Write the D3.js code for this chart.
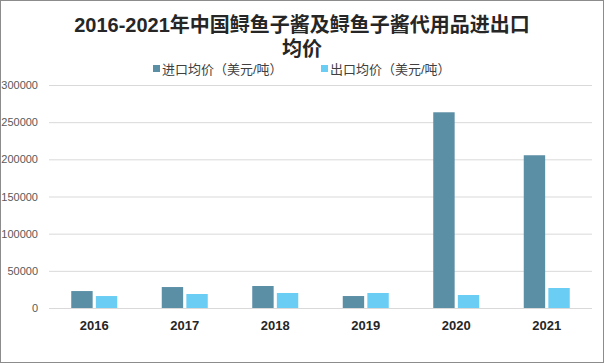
<!DOCTYPE html>
<html>
<head>
<meta charset="utf-8">
<script src="https://cdn.jsdelivr.net/npm/d3@7"></script>
<style>
  body { margin: 0; background: #fff; }
  svg { display: block; font-family: "Liberation Sans", "Noto Sans CJK SC", sans-serif; }
</style>
</head>
<body>
<div class="chart"></div>
<script>
// data
const years = ['2016', '2017', '2018', '2019', '2020', '2021'];
const seriesNames = ['进口均价（美元/吨）', '出口均价（美元/吨）'];
const importPrice = [22800, 28200, 29600, 16100, 263300, 205500];
const exportPrice = [16100, 18800, 20200, 20200, 17500, 26900];
const yTicks = [0, 50000, 100000, 150000, 200000, 250000, 300000];
const colors = ['#5b8fa6', '#6acdf4'];

const width = 605, height = 364;
const margin = {top: 85, right: 13, bottom: 56, left: 49};
const graphWidth = width - margin.left - margin.right;
const graphHeight = height - margin.top - margin.bottom;

const svg = d3.select('.chart')
  .append('svg')
    .attr('width', width)
    .attr('height', height);

// frame
svg.append('rect')
  .attr('x', 0.5).attr('y', 0.5)
  .attr('width', width - 2).attr('height', height - 2)
  .attr('fill', '#fff')
  .attr('stroke', '#8c8c8c');

// title
const title = svg.append('text')
  .attr('text-anchor', 'middle')
  .attr('font-size', 20)
  .attr('font-weight', 'bold')
  .attr('fill', '#262626');
title.append('tspan').attr('x', 302).attr('y', 32).text('2016-2021年中国鲟鱼子酱及鲟鱼子酱代用品进出口');
title.append('tspan').attr('x', 302).attr('y', 56).text('均价');

// legend
const legend = svg.append('g');
const legendX = [153, 321];
seriesNames.forEach((name, i) => {
  legend.append('rect')
    .attr('x', legendX[i]).attr('y', 65)
    .attr('width', 7).attr('height', 7)
    .attr('fill', colors[i]);
  legend.append('text')
    .attr('x', legendX[i] + 9).attr('y', 74)
    .attr('font-size', 13)
    .attr('fill', '#404040')
    .text(name);
});

const graph = svg.append('g')
  .attr('transform', `translate(${margin.left}, ${margin.top})`);

const y = d3.scaleLinear()
  .domain([0, 300000])
  .range([graphHeight, 0]);

const x0 = d3.scaleBand()
  .domain(years)
  .range([0, graphWidth])
  .padding(0);

const x1 = d3.scaleBand()
  .domain([0, 1])
  .range([x0.bandwidth() / 2 - 23, x0.bandwidth() / 2 + 23])
  .paddingInner(0.13);

// grid + y labels
const yAxis = d3.axisLeft(y)
  .tickValues(yTicks)
  .tickSize(-graphWidth)
  .tickPadding(11)
  .tickFormat(d => d);

const yAxisGroup = graph.append('g').call(yAxis);
yAxisGroup.select('.domain').remove();
yAxisGroup.selectAll('line').attr('stroke', '#d9d9d9');
yAxisGroup.selectAll('text')
  .attr('font-size', 11)
  .attr('fill', '#595959')
  .attr('font-family', '"Liberation Sans", sans-serif');

// bars
const groups = graph.selectAll('.year')
  .data(years)
  .enter()
  .append('g')
    .attr('class', 'year')
    .attr('transform', d => `translate(${x0(d)}, 0)`);

groups.selectAll('rect')
  .data((d, i) => [importPrice[i], exportPrice[i]])
  .enter()
  .append('rect')
    .attr('x', (d, i) => x1(i))
    .attr('width', x1.bandwidth())
    .attr('y', d => y(d))
    .attr('height', d => graphHeight - y(d))
    .attr('fill', (d, i) => colors[i]);

// x labels
const xAxis = d3.axisBottom(x0).tickSize(0).tickPadding(13);
const xAxisGroup = graph.append('g')
  .attr('transform', `translate(0, ${graphHeight})`)
  .call(xAxis);
xAxisGroup.select('.domain').remove();
xAxisGroup.selectAll('text')
  .attr('font-size', 13)
  .attr('font-weight', 'bold')
  .attr('fill', '#262626');
</script>
</body>
</html>
